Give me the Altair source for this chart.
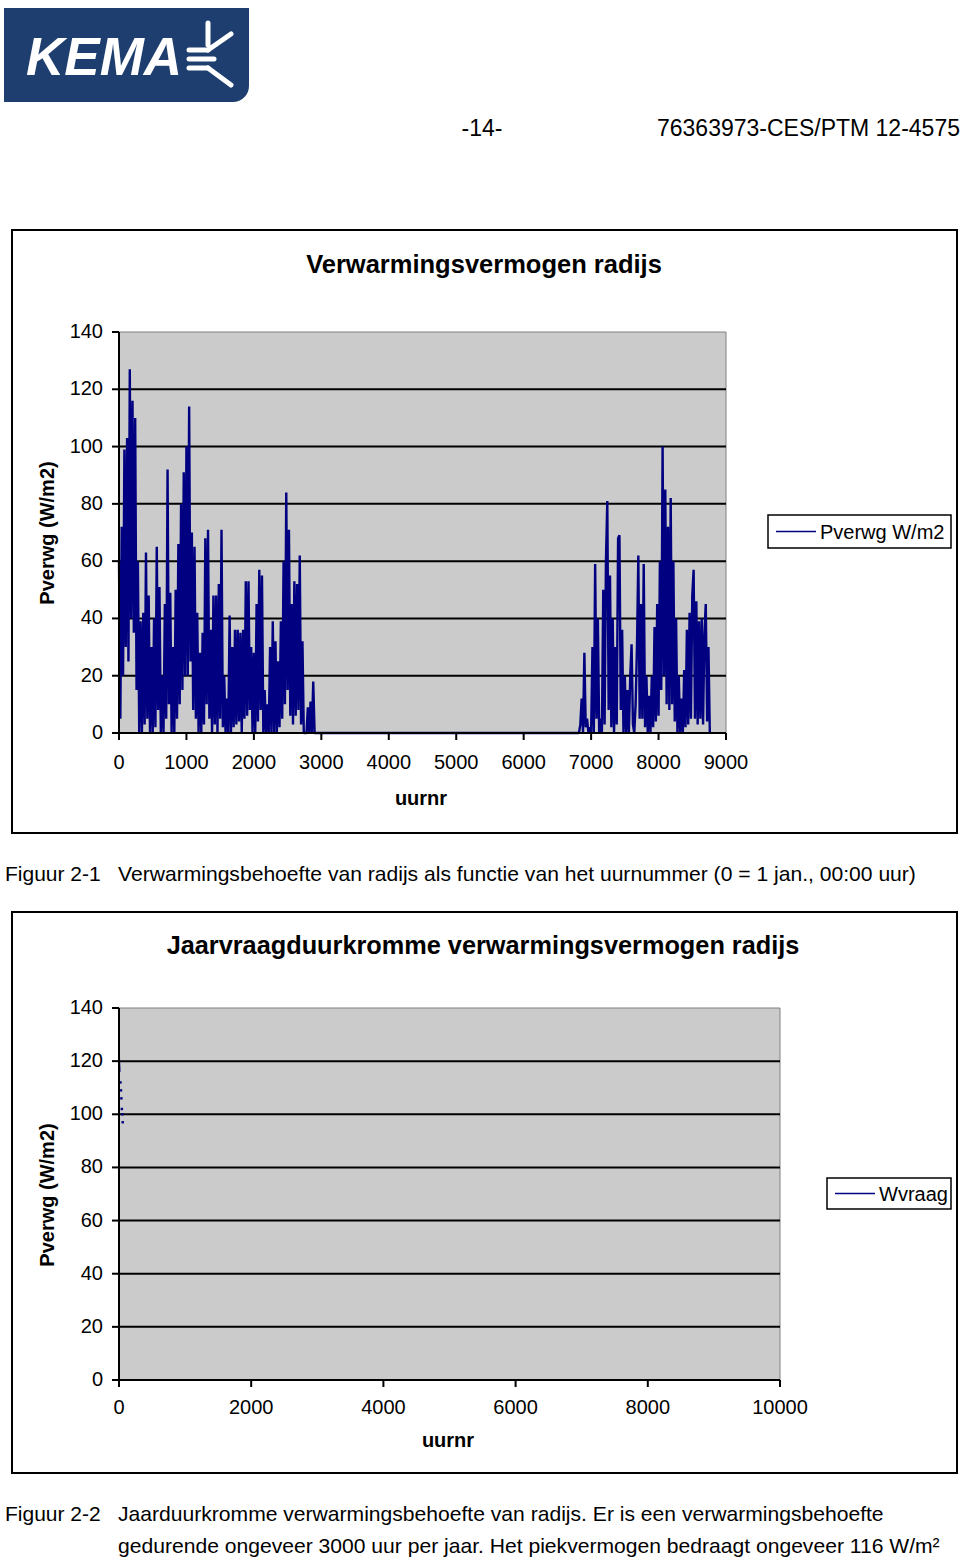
import altair as alt
import pandas as pd

FONT = "Liberation Sans"
NAVY = "#000080"
W, H = 960, 1559

# ---------------- Figuur 2-1 data (hourly heating power, sampled every 20 h) ----------------
STEP = 20
SEASON1_START = 0
SEASON2_START = 6820
season1_values = [
    60, 5, 72, 20, 99, 30, 103, 25, 127, 40,
    116, 35, 110, 15, 60, 0, 39, 0, 42, 3,
    63, 5, 48, 0, 30, 0, 40, 2, 65, 8,
    51, 0, 20, 0, 45, 5, 92, 10, 49, 0,
    30, 0, 50, 5, 66, 10, 80, 15, 91, 20,
    100, 20, 114, 25, 70, 8, 65, 5, 42, 0,
    28, 0, 35, 3, 68, 10, 71, 5, 36, 0,
    48, 3, 48, 0, 52, 5, 71, 2, 20, 0,
    12, 0, 41, 0, 30, 2, 36, 3, 36, 4,
    35, 0, 36, 5, 53, 6, 53, 8, 30, 0,
    28, 0, 45, 4, 57, 8, 55, 0, 15, 0,
    10, 0, 30, 0, 39, 0, 32, 0, 25, 2,
    39, 5, 60, 10, 84, 15, 71, 6, 45, 3,
    53, 6, 52, 8, 62, 3, 32, 0, 0, 0,
    9, 0, 11, 0, 18, 0,
]
season2_values = [
    0, 3, 12, 0, 28, 2, 5, 0, 2, 0,
    30, 0, 59, 5, 40, 0, 5, 0, 50, 3,
    60, 81, 8, 55, 2, 40, 0, 30, 3, 68,
    69, 8, 36, 0, 20, 0, 15, 0, 20, 31,
    3, 0, 10, 30, 62, 5, 45, 5, 59, 2,
    20, 0, 13, 0, 20, 2, 37, 4, 45, 6,
    60, 15, 100, 20, 85, 10, 72, 8, 82, 10,
    60, 4, 40, 0, 20, 0, 12, 0, 22, 2,
    36, 3, 42, 5, 48, 57, 5, 46, 3, 39,
    5, 40, 3, 35, 45, 4, 30, 0,
]
series1_name = "Pverwg W/m2"
x1_ticks = [0, 1000, 2000, 3000, 4000, 5000, 6000, 7000, 8000, 9000]
y_ticks = [0, 20, 40, 60, 80, 100, 120, 140]
grid_levels = [20, 40, 60, 80, 100, 120]

# ---------------- Figuur 2-2 data (duration curve, visible part) ----------------
dur_hours = [0, 8, 15, 22, 30, 36, 43, 50, 56]
dur_values = [128, 120, 116, 112, 109, 106, 102, 100, 97]
series2_name = "Wvraag"
x2_ticks = [0, 2000, 4000, 6000, 8000, 10000]

hours = [SEASON1_START + STEP * i for i in range(len(season1_values))] + \
        [SEASON2_START + STEP * i for i in range(len(season2_values))]
df1 = pd.DataFrame({"uur": hours, "p": season1_values + season2_values})
df2 = pd.DataFrame({"uur": dur_hours, "p": dur_values})

ONE = pd.DataFrame({"k": [0]})


def text(t, x, y, size, weight="normal", align="left", angle=0, color="black", style="normal"):
    return alt.Chart(pd.DataFrame({"t": [t]})).mark_text(
        align=align, baseline="middle", font=FONT, fontSize=size, fontWeight=weight,
        fontStyle=style, angle=angle, color=color
    ).encode(text="t:N", x=alt.value(x), y=alt.value(y))


def box(x, y, x2, y2, **kw):
    return alt.Chart(ONE).mark_rect(**kw).encode(
        x=alt.value(x), y=alt.value(y), x2=alt.value(x2), y2=alt.value(y2))


def seg(x, y, x2, y2, color="white", width=5, cap="round"):
    return alt.Chart(ONE).mark_rule(color=color, strokeWidth=width, strokeCap=cap).encode(
        x=alt.value(x), y=alt.value(y), x2=alt.value(x2), y2=alt.value(y2))


def legend(x, y, x2, y2, label):
    cy = (y + y2) / 2
    return [box(x, y, x2, y2, fill="white", stroke="black", strokeWidth=1.5),
            seg(x + 8, cy, x + 48, cy, color=NAVY, width=1.5, cap="butt"),
            text(label, x + 52, cy + 1, 20)]


def panel(df, x_dom, x_rng, y_rng, x_ticks, label_dy, dotted=False):
    xs = alt.Scale(domain=x_dom, range=x_rng, nice=False, zero=False)
    ys = alt.Scale(domain=[0, 140], range=y_rng, nice=False, zero=False)
    X = lambda f: alt.X(f, scale=xs, axis=None)
    Y = lambda f: alt.Y(f, scale=ys, axis=None)
    ax_y = y_rng[0]
    ax_x = x_rng[0]
    area = alt.Chart(pd.DataFrame({"x0": [x_dom[0]], "x1": [x_dom[1]], "y0": [0], "y1": [140]})).mark_rect(
        fill="#cbcbcb", stroke="#808080", strokeWidth=1
    ).encode(x=X("x0:Q"), x2="x1:Q", y=Y("y0:Q"), y2="y1:Q")
    grid = alt.Chart(pd.DataFrame({"lvl": grid_levels, "a": x_dom[0], "b": x_dom[1]})).mark_rule(
        color="black", strokeWidth=2
    ).encode(x=X("a:Q"), x2="b:Q", y=Y("lvl:Q"))
    parts = [area, grid]
    if not dotted:
        parts.append(alt.Chart(df).mark_line(strokeWidth=2.4, strokeJoin="bevel", color=NAVY).encode(
            x=X("uur:Q"), y=Y("p:Q")))
    else:
        parts.append(alt.Chart(df).transform_filter(alt.datum.uur <= 15).mark_line(
            strokeWidth=1.2, color=NAVY).encode(x=X("uur:Q"), y=Y("p:Q")))
        parts.append(alt.Chart(df).transform_filter(alt.datum.uur > 15).mark_point(
            shape="square", filled=True, size=6, color=NAVY, opacity=1).encode(x=X("uur:Q"), y=Y("p:Q")))
    # axis lines
    dom = pd.DataFrame({"a": [x_dom[0]], "b": [x_dom[1]], "lo": [0], "hi": [140]})
    parts.append(alt.Chart(dom).mark_rule(color="black", strokeWidth=2).encode(
        x=X("a:Q"), x2="b:Q", y=Y("lo:Q")))
    parts.append(alt.Chart(dom).mark_rule(color="black", strokeWidth=2).encode(
        x=X("a:Q"), y=Y("lo:Q"), y2="hi:Q"))
    # x ticks & labels
    xt = alt.Chart(pd.DataFrame({"t": x_ticks}))
    parts.append(xt.mark_rule(color="black", strokeWidth=2).encode(
        x=X("t:Q"), y=alt.value(ax_y), y2=alt.value(ax_y + 7)))
    parts.append(xt.mark_text(font=FONT, fontSize=20, baseline="middle", align="center", color="black").encode(
        x=X("t:Q"), y=alt.value(ax_y + label_dy), text=alt.Text("t:Q", format="d")))
    # y ticks & labels
    yt = alt.Chart(pd.DataFrame({"t": y_ticks}))
    parts.append(yt.mark_rule(color="black", strokeWidth=2).encode(
        y=Y("t:Q"), x=alt.value(ax_x - 7), x2=alt.value(ax_x)))
    parts.append(yt.mark_text(font=FONT, fontSize=20, baseline="middle", align="right", color="black").encode(
        y=Y("t:Q"), x=alt.value(ax_x - 16), text=alt.Text("t:Q", format="d")))
    return alt.layer(*parts)


layers = []
# Header / logo
layers.append(box(4, 8, 249, 102, fill="#1d3e6e", cornerRadiusBottomRight=16))
layers.append(text("KEMA", 26, 59, 53, weight="bold", style="italic", color="white"))
layers += [seg(208, 23, 208, 45), seg(189, 50, 208, 50), seg(208, 50, 231, 34),
           seg(189, 59, 214, 59), seg(189, 68, 208, 68), seg(208, 68, 231, 85)]
layers.append(text("-14-", 482, 129, 23, align="center"))
layers.append(text("76363973-CES/PTM 12-4575", 960, 129, 23, align="right"))

# Figure 1
layers.append(box(12, 230, 957, 833, fillOpacity=0, stroke="black", strokeWidth=2))
layers.append(text("Verwarmingsvermogen radijs", 484, 265, 25.5, weight="bold", align="center"))
layers.append(text("Pverwg (W/m2)", 48, 533, 20, weight="bold", align="center", angle=270))
layers.append(text("uurnr", 421, 799, 20, weight="bold", align="center"))
layers.append(panel(df1, [0, 9000], [119, 726], [733, 332], x1_ticks, 30))
layers += legend(768, 515, 951, 548, series1_name)
layers.append(text("Figuur 2-1", 5, 875, 21))
layers.append(text("Verwarmingsbehoefte van radijs als functie van het uurnummer (0 = 1 jan., 00:00 uur)", 118, 875, 21.1))

# Figure 2
layers.append(box(12, 912, 957, 1473, fillOpacity=0, stroke="black", strokeWidth=2))
layers.append(text("Jaarvraagduurkromme verwarmingsvermogen radijs", 483, 946, 25.3, weight="bold", align="center"))
layers.append(text("Pverwg (W/m2)", 48, 1195, 20, weight="bold", align="center", angle=270))
layers.append(text("uurnr", 448, 1441, 20, weight="bold", align="center"))
layers.append(panel(df2, [0, 10000], [119, 780], [1380, 1008], x2_ticks, 28, dotted=True))
layers += legend(827, 1178, 951, 1209, series2_name)
layers.append(text("Figuur 2-2", 5, 1515, 21))
layers.append(text("Jaarduurkromme verwarmingsbehoefte van radijs. Er is een verwarmingsbehoefte", 118, 1515, 21.1))
layers.append(text("gedurende ongeveer 3000 uur per jaar. Het piekvermogen bedraagt ongeveer 116 W/m²", 118, 1547, 21.1))

chart = alt.layer(*layers).resolve_scale(
    x="independent", y="independent"
).properties(
    width=W, height=H, padding=0, background="white",
    autosize=alt.AutoSizeParams(type="none"),
).configure_view(stroke=None)

chart.save("out.html", embed_options={"renderer": "svg", "actions": False})
